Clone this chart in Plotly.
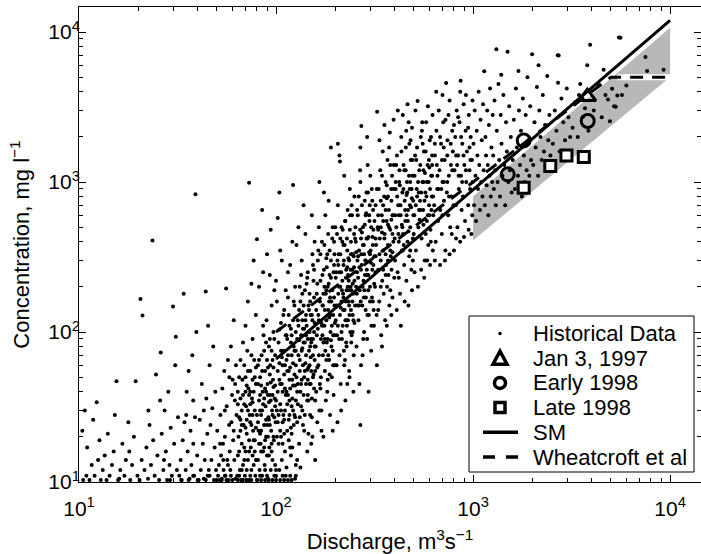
import plotly.graph_objects as go

# ---------------- data ----------------
# Historical data: (discharge m3/s, concentration mg/l)
hist_points = [
    # Q 10-20
    (10.4,22),(10.5,10.3),(10.7,30),(10.9,11),(11,17),(11.3,10.3),(11.6,13),(12,11),(12.3,34),(12.7,19),
    (12.9,10.3),(13.2,12),(13.5,15),(13.8,10.3),(14,21),(14.3,11),(14.7,13),(15,16),(15.5,47),(15.8,10.3),
    (16.2,12),(16.6,18),(17,11),(17.3,14),(17.8,25),(18.2,10.3),(18.6,13),(19,20),(19.4,47),(19.8,11),
    (12.5,14),(15.2,28),(18,16),(11.8,26),(16,10.5),
    # Q 20-32
    (20.5,166),(21,129),(20.3,10.3),(20.8,14),(21.5,12),(22,17),(22.4,10.5),(22.8,24),(23.2,13),(23.6,407),
    (23.8,19),(24.2,11),(24.6,52),(25,15),(25.5,10.3),(26,73),(26.3,21),(26.8,12),(27.2,30),(27.6,16),
    (28,10.3),(28.4,40),(28.8,13),(29.2,23),(29.6,11),(30,148),(30.4,18),(30.8,60),(31,93),(31.4,12),
    (31.8,27),(25.8,35),(22.5,30),(29,10.3),(27,14),
    # Q 32-50
    (32.3,11),(32.8,14),(33.2,10.3),(33.6,19),(34,180),(34.3,25),(34.8,12),(35.2,40),(35.6,16),(36,55),
    (36.4,10.5),(36.8,22),(37.2,13),(37.6,70),(38,35),(38.4,11),(38.8,27),(39,830),(39.4,100),(39.8,15),
    (40.5,10.3),(41,26),(41.5,12),(42,45),(42.5,18),(43,10.5),(43.5,14),(44,186),(44.3,36),(44.8,21),
    (45.2,110),(45.6,12),(46,60),(46.5,24),(47,14),(47.5,31),(48,80),(48.4,10.3),(48.8,17),(49.2,40),
    (49.6,12),(35,28),(38,18),(43,30),(46,11),
    # Q 50-63
    (50.3,22),(50.8,11),(51.3,13),(51.8,10.3),(52.2,28),(52.6,15),(53,10.5),(53.4,42),(53.8,18),(54.2,12),
    (54.6,55),(55,20),(55.4,11),(55.8,195),(56.2,32),(56.6,14),(57,65),(57.4,10.3),(57.8,24),(58.2,16),
    (58.6,12),(59,80),(59.4,25),(59.8,38),(60.2,48),(60.6,19),(61,120),(61.4,14),(61.8,35),(62.2,10.5),
    (62.6,60),(63,28),(52,18),(55,30),(57,13),(59,11),(61,22),(62,45),(54,14),(58,50),
    # Q 63-80
    (63.5,11),(64,15),(64.5,20),(65,27),(65.5,12),(66,36),(66.5,10.3),(67,18),(67.5,48),(68,13),
    (68.5,24),(69,60),(69.5,11),(70,16),(70.5,32),(71,21),(71.5,75),(72,14),(72.5,42),(73,10.3),
    (73.5,28),(74,55),(74.5,17),(75,12),(75.5,36),(76,90),(76.5,22),(77,13),(77.5,65),(78,30),
    (78.5,11),(79,45),(64,40),(66,26),(68,85),(70,110),(72,160),(73,990),(75,210),(77,300),
    (79,130),(65,16),(67,12),(69,33),(71,12),(74,25),(76,15),(78,19),(80,415),(66,65),
    (70,50),(73,38),(76,48),(79,23),(68,10.3),
    # Q 80-100
    (80.5,10.3),(81,14),(81.5,22),(82,35),(82.5,12),(83,50),(83.5,18),(84,28),(84.5,70),(85,11),
    (85.5,40),(86,16),(86.5,95),(87,24),(87.5,13),(88,55),(88.5,32),(89,20),(89.5,120),(90,15),
    (90.5,45),(91,10.5),(91.5,27),(92,80),(92.5,17),(93,38),(93.5,60),(94,12),(94.5,22),(95,150),
    (95.5,30),(96,14),(96.5,48),(97,100),(97.5,19),(98,11),(98.5,36),(99,70),(99.5,25),(82,200),
    (86,250),(90,330),(94,480),(98,190),(84,16),(88,12),(92,26),(96,65),(85,650),(89,40),
    (93,90),(97,20),(83,30),(87,75),(91,58),(95,18),(99,13),(81,45),(93,240),
    # Q 100-126
    (100,12),(101,30),(102,55),(103,18),(104,104),(104,850),(105,22),(106,75),(107,14),(108,40),
    (109,130),(110,26),(111,60),(112,11),(113,95),(114,33),(115,170),(116,19),(117,48),(118,280),
    (119,15),(120,70),(121,36),(122,955),(122,120),(123,24),(124,52),(125,200),(126,13),(101,160),
    (103,85),(105,45),(107,300),(109,28),(111,16),(113,65),(115,38),(117,110),(119,23),(121,400),
    (123,80),(125,44),(102,575),(106,20),(110,140),(114,90),(118,17),(122,62),(126,35),(100,220),
    (104,12),(108,25),(112,190),(116,55),(120,32),(124,150),(105,350),(115,250),(111,42),(107,68),
    (119,105),(113,12.5),(117,28),(121,17),
    # Q 126-158
    (127,50),(128,25),(129,120),(130,70),(131,18),(132,200),(133,40),(134,95),(135,300),(136,30),
    (137,60),(138,150),(139,22),(140,85),(141,450),(142,45),(143,110),(144,16),(145,250),(146,35),
    (147,75),(148,180),(149,28),(150,130),(151,55),(152,600),(153,20),(154,90),(155,220),(156,42),
    (157,65),(158,14),(127,380),(129,33),(131,88),(133,160),(135,48),(137,24),(139,105),(141,62),
    (143,210),(145,38),(147,140),(149,80),(151,18),(153,330),(155,52),(157,115),(128,14),(132,27),
    (136,78),(140,190),(144,56),(148,100),(152,36),(156,170),(130,500),(134,240),(138,38),(142,130),
    (146,21),(150,68),(154,280),(138,700),(145,90),(150,45),(133,12.5),(157,400),(126,100),(146,58),
    # Q 158-200
    (159,80),(160,40),(161,180),(162,25),(163,300),(164,60),(165,120),(166,1000),(167,45),(168,220),
    (169,90),(170,30),(171,400),(172,150),(173,70),(174,20),(175,260),(176,110),(177,55),(178,600),
    (179,35),(180,190),(181,85),(182,330),(183,48),(184,140),(185,750),(186,65),(187,240),(188,28),
    (189,100),(190,1700),(191,160),(192,50),(193,420),(194,75),(195,130),(196,38),(197,280),(198,95),
    (199,60),(200,500),(160,140),(164,350),(168,42),(172,95),(176,200),(180,65),(184,450),(188,170),
    (192,110),(196,250),(162,58),(166,30),(170,115),(174,180),(178,75),(182,40),(186,125),(190,300),
    (194,22),(198,150),(165,500),(175,850),(185,210),(195,60),(170,22),(180,310),(190,88),(163,105),
    (177,140),(187,52),(197,400),(183,90),
    # Q 200-250
    (201,120),(203,60),(205,300),(207,180),(209,90),(211,1372),(213,45),(215,500),(217,220),(219,140),
    (221,75),(223,380),(225,35),(227,260),(229,110),(231,650),(233,160),(235,55),(237,900),(239,200),
    (241,85),(243,330),(245,130),(247,40),(249,450),(202,250),(204,95),(206,700),(208,150),(210,70),
    (212,420),(214,30),(216,190),(218,110),(220,280),(222,1100),(224,65),(226,160),(228,80),(230,350),
    (232,120),(234,220),(236,50),(238,600),(240,140),(242,95),(244,260),(246,180),(248,70),(250,800),
    (205,25),(215,100),(225,550),(235,300),(245,210),(210,1500),(220,170),(230,45),(240,400),(250,115),
    (212,200),(222,60),(232,240),(242,700),(208,330),(218,480),(228,190),(238,100),(248,320),(213,145),
    (227,85),(244,160),(236,130),(206,1800),
    # Q 250-316
    (252,150),(254,400),(256,80),(258,250),(260,600),(262,120),(264,350),(266,190),(268,1000),(270,60),
    (272,280),(274,150),(276,500),(278,220),(280,100),(282,750),(284,300),(286,170),(288,420),(290,90),
    (292,1300),(294,240),(296,130),(298,550),(300,200),(302,350),(304,75),(306,900),(308,260),(310,160),
    (312,480),(314,110),(316,320),(265,45),(275,70),(285,140),(295,40),(305,110),(315,210),(257,180),
    (263,800),(269,160),(279,380),(289,260),(299,700),(309,430),(261,230),(271,330),(281,190),(291,130),
    (301,1100),(311,650),(253,500),(267,1200),(277,90),(287,620),(297,340),(307,170),(259,300),(273,460),
    (283,240),(293,850),(303,290),(313,140),(271,2366),(268,1700),(290,2000),(268,24),
    # Q 316-400
    (318,200),(320,700),(322,380),(324,130),(326,2940),(328,500),(330,260),(332,900),(334,160),(336,420),
    (338,1200),(340,300),(342,95),(344,600),(346,220),(348,1600),(350,350),(352,180),(354,800),(356,450),
    (358,120),(360,1000),(362,280),(364,550),(366,200),(368,1400),(370,380),(372,240),(374,650),(376,150),
    (378,2140),(380,480),(382,320),(384,900),(386,260),(388,1100),(390,170),(392,600),(394,400),(396,1300),
    (398,230),(325,60),(345,80),(365,110),(385,130),(335,1900),(355,2400),(375,1700),(395,2600),(330,140),
    (350,260),(370,520),(390,340),(340,750),(360,330),(380,190),(320,320),(345,460),(365,780),(385,560),
    # Q 400-500
    (402,300),(405,900),(408,500),(411,1500),(414,250),(417,700),(420,400),(423,1200),(426,180),(429,600),
    (432,2000),(435,350),(438,850),(441,450),(444,1300),(447,280),(450,750),(453,550),(456,1700),(459,220),
    (462,1000),(465,400),(468,650),(471,2500),(474,320),(477,900),(480,500),(483,1400),(486,260),(489,780),
    (492,1100),(495,420),(498,600),(410,140),(430,110),(450,160),(470,150),(490,190),(415,3000),(440,2800),
    (465,3300),(490,2300),(420,230),(445,380),(470,470),(495,300),(425,950),(455,1200),(485,680),(435,520),
    (460,820),(480,350),(405,1000),(475,1800),
    # Q 500-630
    (503,600),(508,1500),(513,350),(518,900),(523,3470),(528,500),(533,1200),(538,750),(543,2000),(548,420),
    (553,1000),(558,650),(563,1600),(568,300),(573,850),(578,2500),(583,550),(588,1300),(593,380),(598,700),
    (603,1900),(608,480),(613,1100),(618,800),(623,2800),(628,600),(505,250),(525,200),(545,260),(565,230),
    (585,300),(605,280),(625,350),(515,1400),(535,560),(555,1800),(575,450),(595,1000),(615,650),(510,3000),
    (550,2200),(590,3200),(620,1500),(530,850),(570,1150),(610,400),(560,520),(600,1250),
    # Q 630-800
    (635,700),(640,1500),(646,400),(652,2200),(658,900),(664,550),(670,3000),(676,1200),(682,650),(688,1800),
    (694,450),(700,1000),(706,2500),(712,750),(718,1400),(724,350),(730,4580),(736,850),(742,1900),(748,600),
    (754,1100),(760,3500),(766,500),(772,1300),(778,800),(784,2200),(790,1600),(796,700),(640,300),(680,280),
    (720,300),(760,330),(800,350),(650,4000),(700,3800),(750,2800),(660,1100),(700,600),(740,1000),(780,450),
    (710,1700),(690,900),
    # Q 800-1000
    (805,1200),(812,2000),(819,700),(826,3000),(833,500),(840,1500),(847,900),(854,2500),(861,4000),(868,1100),
    (875,650),(882,1800),(889,800),(896,3300),(903,1300),(910,550),(917,2200),(924,1000),(931,1600),(865,4730),
    (945,700),(952,2800),(959,1200),(966,900),(973,2000),(980,450),(987,1400),(994,3500),(820,420),(860,400),
    (900,430),(950,480),(990,600),(840,2700),(880,1000),(920,3800),(960,1700),(830,1300),
    # Q 1000-1260
    (1005,1800),(1012,700),(1020,3000),(1028,1100),(1036,550),(1044,2200),(1052,1500),(1060,900),(1068,4000),(1076,1300),
    (1084,650),(1092,2600),(1100,1000),(1108,1900),(1116,800),(1124,3300),(1132,1200),(1140,5480),(1148,700),(1156,2000),
    (1164,1500),(1172,950),(1180,3000),(1188,1300),(1196,600),(1204,2400),(1212,1100),(1220,4200),(1230,800),(1240,1700),
    (1250,1000),(1258,2800),
    # Q 1260-1580
    (1265,1500),(1275,900),(1285,3500),(1295,1200),(1305,700),(1313,7680),(1320,2200),(1332,1000),(1345,4500),(1358,1400),
    (1370,800),(1382,2800),(1395,1800),(1410,1100),(1425,3800),(1440,1300),(1455,700),(1470,2500),(1485,1600),(1496,7400),
    (1510,1000),(1525,3200),(1540,1200),(1555,2000),(1570,850),(1390,5200),
    # Q 1580-2000
    (1590,1400),(1610,2600),(1630,900),(1650,4200),(1670,1700),(1690,1100),(1710,3000),(1730,1300),(1750,2200),(1770,800),
    (1790,3600),(1810,1500),(1830,1000),(1850,2800),(1870,1200),(1890,5000),(1910,1900),(1930,1100),(1950,3200),(1970,1400),
    (1995,7100),(1700,5500),
    # Q 2000-2500
    (2020,1300),(2050,2500),(2080,1700),(2110,4300),(2140,1100),(2170,3000),(2200,2000),(2230,1400),(2260,3800),(2290,1600),
    (2320,2400),(2350,1200),(2380,5100),(2410,1900),(2440,2800),(2470,1500),(2150,6000),
    # Q 2500-3200
    (2540,1800),(2600,3000),(2650,2200),(2690,7000),(2750,1600),(2810,3600),(2870,2500),(2930,1900),(2990,4200),(3050,2700),
    (3110,2000),(2700,4600),(2850,1400),(2720,6980),
    # Q 3200-10000
    (3200,2300),(3300,3400),(3400,2000),(3500,4500),(3600,2700),(3700,3100),(3800,6000),(3850,2200),(3930,8240),(3450,3800),
    (4100,3000),(4300,4500),(4500,2700),(4700,3800),(4840,3550),(4600,5600),(5080,4190),(5400,3780),(4950,2540),(5300,3180),
    (5200,3200),(5500,9200),(5700,3800),(6000,4400),(7500,6810),(7650,5500),(9270,5600),(5600,9160),
    # bottom quantised rows
    (33,10.3),(36,10.3),(40,10.3),(44,10.3),(50,10.3),(53,10.3),(56,10.3),(60,10.3),(64,10.3),(67,10.3),
    (71,10.3),(75,10.3),(80,10.3),(84,10.3),(88,10.3),(92,10.3),(96,10.3),(100,10.3),(105,10.3),(110,10.3),
    (115,10.3),(120,10.3),(125,10.5),(38,11),(45,11),(55,11),(65,11),(74,11),(83,11),(90,11),
    (100,11),(108,11),(118,11),(126,11),
    # dense core, Q 65-160
    (66,22),(67,30),(69,17),(70,40),(71,26),(72,55),(73,19),(74,33),(75,70),(76,28),(77,40),(78,16),(79,58),
    (81,25),(82,65),(83,21),(84,44),(85,30),(86,110),(87,36),(88,19),(89,85),(90,24),(91,38),(92,15),(93,52),
    (94,35),(95,75),(96,28),(97,43),(98,90),(99,32),(101,20),(102,40),(103,28),(104,62),(105,33),(106,115),
    (107,45),(108,18),(109,75),(110,52),(111,30),(112,95),(113,40),(114,22),(115,70),(116,130),(117,35),
    (118,58),(119,85),(120,21),(121,48),(122,30),(123,160),(124,75),(125,27),(126,60),(128,90),(129,45),
    (131,140),(132,55),(134,32),(135,75),(136,180),(137,105),(139,50),(140,28),(141,120),(142,70),(144,230),
    (145,48),(147,100),(148,60),(149,160),(151,85),(152,27),(153,120),(154,50),(156,260),(157,80),(158,35),
    (64,33),(65,50),(67,24),(68,38),(69,14),(70,23),(71,44),(72,30),(73,16),(74,40),(75,24),(76,34),(77,19),
    (78,50),(79,14),(80,28),(81,60),(82,18),(83,38),(84,22),(85,55),(86,33),(87,17),(88,42),(89,26),(90,65),
    (91,20),(92,34),(93,24),(94,46),(95,16),(96,38),(97,58),(98,27),(99,44),(100,35),(102,25),(104,48),
    (106,30),(108,60),(110,21),(112,38),(114,55),(116,26),(118,42),(120,95),(122,44),(124,28),(126,75),
    (128,40),(130,110),(132,65),(134,45),(136,120),(138,85),(140,55),(142,95),(144,35),(146,150),(148,45),
    (150,90),(152,130),(154,70),(156,100),(158,55),
    # dense core, Q 160-400
    (161,95),(162,210),(164,130),(165,70),(167,160),(168,330),(169,50),(171,110),(172,240),(173,150),(174,85),
    (176,380),(177,90),(179,180),(180,120),(181,270),(183,200),(184,70),(186,160),(187,350),(189,130),(190,230),
    (191,80),(193,190),(194,500),(195,95),(197,170),(198,330),(199,115),(201,230),(203,150),(204,450),(206,110),
    (207,280),(209,200),(211,130),(212,330),(214,250),(216,90),(217,400),(219,180),(221,300),(223,140),(224,550),
    (226,230),(228,120),(229,420),(231,200),(233,310),(235,150),(237,480),(239,260),(241,190),(243,600),(245,330),
    (247,120),(249,270),(252,420),(255,200),(258,650),(261,320),(264,150),(267,480),(270,260),(273,700),(276,380),
    (279,170),(282,520),(285,300),(288,850),(291,420),(294,190),(297,600),(300,330),(304,500),(308,750),(312,280),
    (316,550),(320,420),(325,900),(330,600),(335,330),(340,500),(345,1100),(350,700),(355,420),(360,650),(365,950),
    (370,300),(375,500),(380,1300),(385,750),(390,450),(395,900),
    (210,250),(215,160),(220,380),(225,120),(230,270),(235,190),(240,330),(245,100),(250,220),(255,340),
    (260,150),(265,270),(270,420),(275,200),(280,330),(285,600),(290,240),(295,430),(300,160),(310,380),
    (320,250),(330,480),(340,200),(350,550),(360,240),(370,800),(380,350),(390,600),
    # dense core, Q 400-1000
    (403,600),(407,1300),(412,800),(418,450),(422,1000),(428,700),(433,1600),(438,500),(443,900),(448,1200),
    (452,650),(458,2200),(463,850),(467,550),(473,1100),(478,700),(482,1900),(488,900),(493,1400),(497,750),
    (505,1100),(512,700),(520,1700),(526,1000),(532,650),(540,1300),(546,850),(552,2500),(560,1200),(567,750),
    (575,1600),(582,1000),(590,600),(597,1400),(605,900),(612,2000),(620,1100),(627,800),(640,1800),(655,1300),
    (668,900),(680,2000),(695,1400),(710,1000),(725,2600),(740,1500),(755,800),(770,1800),(785,1200),(800,2400),
    (820,1500),(845,1100),(870,2000),(895,1500),(920,1200),(945,2300),(970,1400),(995,1000),
    (400,420),(420,600),(440,350),(460,600),(480,1000),(500,450),(520,800),(540,650),(560,1000),(580,800),
    (600,600),(620,1300),
]
hist_q = [p[0] for p in hist_points]
hist_c = [p[1] for p in hist_points]

jan1997_q = [3800]
jan1997_c = [3700]

early1998_q = [1807, 1500, 3820]
early1998_c = [1893, 1125, 2552]

late1998_q = [1807, 2466, 2979, 3648]
late1998_c = [916, 1279, 1503, 1468]

sm_q = [100, 10000]
sm_c = [66, 11950]

wheat_q = [100, 5000, 10000]
wheat_c = [100, 5000, 5000]

band_q = [1000, 1000, 10000, 10000, 9700, 1000]
band_c = [408, 800, 10700, 4900, 4850, 408]

cap_q = [5400, 10000]
cap_c = [5000, 5000]

major_vals = [10, 100, 1000, 10000]
major_text = ["10<sup>1</sup>", "10<sup>2</sup>", "10<sup>3</sup>", "10<sup>4</sup>"]
minor_vals = [m * d for d in (10, 100, 1000, 10000) for m in range(2, 10)]

legend_labels = ["Historical Data", "Jan 3, 1997", "Early 1998", "Late 1998", "SM", "Wheatcroft et al"]

FONT = "Liberation Sans, Arial, Helvetica, sans-serif"

# ---------------- layout geometry (pixels) ----------------
W, H = 701, 554
ML, MR, MT, MB = 79, 0, 7, 72
PW, PH = W - ML - MR, H - MT - MB


def pxx(px):
    return (px - ML) / PW


def pxy(py):
    return (H - MB - py) / PH


LEG_L, LEG_R, LEG_T, LEG_B = 469, 694, 316, 472
LEG_ROW0, LEG_ROWSTEP = 333.5, 24.7
LEG_KEY_X, LEG_TEXT_X = 500, 531
LEG_LINE_X0, LEG_LINE_X1 = 483, 518

fig = go.Figure()

fig.add_trace(go.Scatter(x=band_q, y=band_c, mode="lines", fill="toself",
                         fillcolor="#b8b8b8", line=dict(width=0, color="#b8b8b8"),
                         showlegend=False, hoverinfo="skip"))

fig.add_trace(go.Scatter(x=hist_q, y=hist_c, mode="markers", name=legend_labels[0],
                         marker=dict(color="black", size=4, line=dict(width=0))))

fig.add_trace(go.Scatter(x=cap_q, y=cap_c, mode="lines", line=dict(color="white", width=6),
                         showlegend=False, hoverinfo="skip"))

fig.add_trace(go.Scatter(x=jan1997_q, y=jan1997_c, mode="markers", name=legend_labels[1],
                         marker=dict(symbol="triangle-up", size=15, color="rgba(0,0,0,0)",
                                     line=dict(color="black", width=3))))
fig.add_trace(go.Scatter(x=early1998_q, y=early1998_c, mode="markers", name=legend_labels[2],
                         marker=dict(symbol="circle", size=13, color="rgba(0,0,0,0)",
                                     line=dict(color="black", width=3))))
fig.add_trace(go.Scatter(x=late1998_q, y=late1998_c, mode="markers", name=legend_labels[3],
                         marker=dict(symbol="square", size=11, color="white",
                                     line=dict(color="black", width=3))))
fig.add_trace(go.Scatter(x=sm_q, y=sm_c, mode="lines", name=legend_labels[4],
                         line=dict(color="black", width=3)))
fig.add_trace(go.Scatter(x=wheat_q, y=wheat_c, mode="lines", name=legend_labels[5],
                         line=dict(color="black", width=3, dash="13px,9px")))

axis_common = dict(type="log", showline=True, linecolor="black", linewidth=1, mirror="ticks",
                   ticks="inside", ticklen=7, tickcolor="black", tickwidth=1,
                   tickmode="array", tickvals=major_vals, ticktext=major_text,
                   minor=dict(tickmode="array", tickvals=minor_vals, ticks="inside",
                              ticklen=4, tickcolor="black", showgrid=False),
                   showgrid=False, zeroline=False,
                   tickfont=dict(family=FONT, size=21, color="black"))

fig.update_xaxes(range=[1, 4.157], ticklabelstandoff=8,
                 title=dict(text="Discharge, m<sup>3</sup>s<sup>−1</sup>",
                            font=dict(family=FONT, size=22, color="black"), standoff=14),
                 **axis_common)
fig.update_yaxes(range=[1, 4.167], ticklabelstandoff=-6,
                 title=dict(text="Concentration, mg l<sup>−1</sup>",
                            font=dict(family=FONT, size=22, color="black"), standoff=12),
                 **axis_common)

# ---------------- legend (drawn as a boxed key) ----------------
shapes = [dict(type="rect", xref="paper", yref="paper",
               x0=pxx(LEG_L), x1=pxx(LEG_R), y0=pxy(LEG_B), y1=pxy(LEG_T),
               line=dict(color="black", width=1), fillcolor="white", layer="above")]
rows = [LEG_ROW0 + i * LEG_ROWSTEP for i in range(len(legend_labels))]


def key(shape_type, row, half, width, fill, path=None):
    d = dict(type=shape_type, xref="paper", yref="paper",
             xsizemode="pixel", ysizemode="pixel",
             xanchor=pxx(LEG_KEY_X), yanchor=pxy(rows[row]),
             line=dict(color="black", width=width), fillcolor=fill, layer="above")
    if path:
        d["path"] = path
    else:
        d.update(x0=-half, x1=half, y0=-half, y1=half)
    return d


shapes.append(key("circle", 0, 1.8, 0, "black"))
shapes.append(key("path", 1, 0, 3.5, "rgba(0,0,0,0)", path="M -7,-6 L 7,-6 L 0,7 Z"))
shapes.append(key("circle", 2, 5.5, 3.5, "rgba(0,0,0,0)"))
shapes.append(key("rect", 3, 5, 3.5, "white"))
shapes.append(dict(type="line", xref="paper", yref="paper",
                   x0=pxx(LEG_LINE_X0), x1=pxx(LEG_LINE_X1), y0=pxy(rows[4]), y1=pxy(rows[4]),
                   line=dict(color="black", width=3.5), layer="above"))
shapes.append(dict(type="line", xref="paper", yref="paper",
                   x0=pxx(LEG_LINE_X0), x1=pxx(LEG_LINE_X1), y0=pxy(rows[5]), y1=pxy(rows[5]),
                   line=dict(color="black", width=3.5, dash="12px,11px"), layer="above"))

annotations = [dict(text=lab, xref="paper", yref="paper", x=pxx(LEG_TEXT_X), y=pxy(r),
                    xanchor="left", yanchor="middle", showarrow=False,
                    font=dict(family=FONT, size=22, color="black"))
               for lab, r in zip(legend_labels, rows)]

fig.update_layout(
    width=W, height=H,
    margin=dict(l=ML, r=MR, t=MT, b=MB),
    plot_bgcolor="white", paper_bgcolor="white",
    font=dict(family=FONT, size=21, color="black"),
    showlegend=False,
    shapes=shapes,
    annotations=annotations,
)

fig.write_html("out.html")
